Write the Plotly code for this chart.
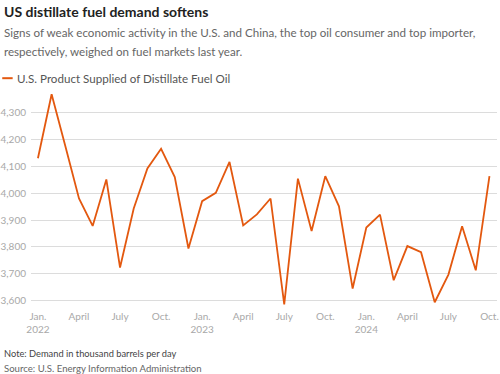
import plotly.graph_objects as go

months = ["2022-01","2022-02","2022-03","2022-04","2022-05","2022-06","2022-07","2022-08","2022-09","2022-10","2022-11","2022-12",
          "2023-01","2023-02","2023-03","2023-04","2023-05","2023-06","2023-07","2023-08","2023-09","2023-10","2023-11","2023-12",
          "2024-01","2024-02","2024-03","2024-04","2024-05","2024-06","2024-07","2024-08","2024-09","2024-10"]
demand = [4130, 4368, 4175, 3980, 3878, 4051, 3723, 3943, 4092, 4165, 4060, 3794,
          3970, 4001, 4116, 3880, 3921, 3980, 3586, 4054, 3859, 4063, 3951, 3645,
          3872, 3920, 3676, 3803, 3780, 3594, 3697, 3877, 3713, 4063]
tick_positions = ["2022-01","2022-04","2022-07","2022-10","2023-01","2023-04","2023-07","2023-10","2024-01","2024-04","2024-07","2024-10"]
tick_labels = ["Jan.<br>2022","April","July","Oct.","Jan.<br>2023","April","July","Oct.","Jan.<br>2024","April","July","Oct."]
y_ticks = [3600, 3700, 3800, 3900, 4000, 4100, 4200, 4300]

W, H = 500, 374
ML, MR, MT, MB = 29, 1, 90.8, 68.3
PH = H - MT - MB
PW = W - ML - MR
LINE_COLOR = "#e3580f"

idx = list(range(len(months)))
tick_idx = [months.index(m) for m in tick_positions]

def py(ypx):
    return (H - MB - ypx) / PH

def px(xpx):
    return (xpx - ML) / PW

FONT = "Lato"
fig = go.Figure()
fig.add_trace(go.Scatter(x=idx, y=demand, mode="lines",
                         line=dict(color=LINE_COLOR, width=1.8),
                         name="U.S. Product Supplied of Distillate Fuel Oil",
                         showlegend=False, hoverinfo="skip"))

fig.update_layout(
    width=W, height=H,
    margin=dict(l=ML, r=MR, t=MT, b=MB, pad=0),
    paper_bgcolor="white", plot_bgcolor="white",
    font=dict(family=FONT, color="#333"),
    xaxis=dict(range=[-7/13.8, (499-36)/13.8], tickvals=tick_idx, ticktext=tick_labels,
               showgrid=False, zeroline=False, showline=False, ticks="",
               ticklabeloverflow="allow",
               tickfont=dict(size=10, color="#a8a8a8", family=FONT), ticklabelstandoff=3),
    yaxis=dict(range=[3580, 4380], tickvals=y_ticks, tickformat=",", showgrid=True,
               gridcolor="#dcdcdc", gridwidth=1, zeroline=False, showline=False, ticks="",
               tickfont=dict(size=10, color="#a8a8a8", family=FONT), ticklabelstandoff=4),
)

# legend key
fig.add_shape(type="line", xref="paper", yref="paper", x0=px(0), x1=px(10.5), y0=py(78), y1=py(78),
              line=dict(color=LINE_COLOR, width=2))

anns = [
    dict(text="<b>US distillate fuel demand softens</b>", x=0, y=py(11.5), size=14, color="#222"),
    dict(text="Signs of weak economic activity in the U.S. and China, the top oil consumer and top importer,", x=0, y=py(32), size=11.6, color="#666"),
    dict(text="respectively, weighed on fuel markets last year.", x=0, y=py(51), size=11.6, color="#666"),
    dict(text="U.S. Product Supplied of Distillate Fuel Oil", x=13, y=py(78), size=11.6, color="#555"),
    dict(text="Note: Demand in thousand barrels per day", x=0, y=py(353), size=9.3, color="#444"),
    dict(text="Source: U.S. Energy Information Administration", x=0, y=py(368.5), size=9.6, color="#666"),
]
for a in anns:
    fig.add_annotation(text=a["text"], xref="paper", yref="paper", x=px(a["x"]), y=a["y"],
                       xanchor="left", yanchor="middle", showarrow=False,
                       font=dict(size=a["size"], color=a["color"], family=FONT))

fig.write_html("out.html", config={"displayModeBar": False},
               post_script="document.body.style.margin='0';")
